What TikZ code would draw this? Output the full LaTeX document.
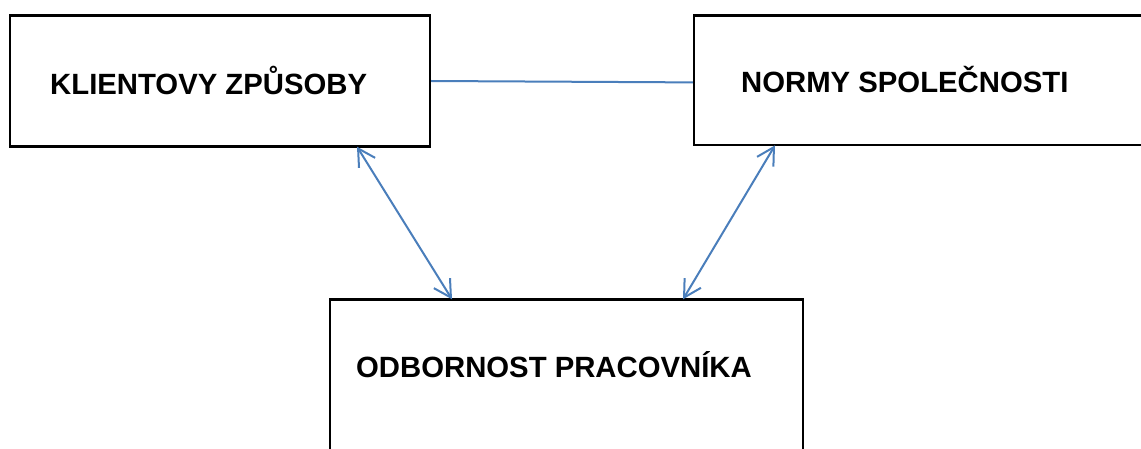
\documentclass[tikz,border=0pt]{standalone}
\usepackage{fontspec}
\setmainfont{Liberation Sans}
\usetikzlibrary{arrows.meta}
\definecolor{linkblue}{HTML}{4A7EBB}
\tikzset{
  box/.style={draw=black, line width=2.4pt, rectangle, inner sep=0pt, fill=white},
  label/.style={anchor=base west, inner sep=0pt, font=\fontsize{29.3}{34}\selectfont\bfseries},
  link/.style={draw=linkblue, line width=2pt},
  twoway/.style={link, {Straight Barb[length=17pt,width=19pt,line width=2pt]}-{Straight Barb[length=17pt,width=19pt,line width=2pt]}}
}
\begin{document}
\begin{tikzpicture}[x=1pt, y=1pt]
  \useasboundingbox (0,0) rectangle (1141,448);
  \clip (0,0) rectangle (1141,448);
  \fill[white] (0,0) rectangle (1141,448);

  % three boxes
  \node[box, minimum width=420pt, minimum height=131pt] (kl) at (220,367) {};
  \node[box, minimum width=476pt, minimum height=129.5pt] (nm) at (932,367.6) {};
  \node[box, minimum width=473pt, minimum height=200.5pt] (od) at (566.5,48.25) {};

  % box titles
  \node[label] (kltext) at (50,353) {KLIENTOVY ZPŮSOBY};
  \node[label] (nmtext) at (741,355) {NORMY SPOLEČNOSTI};
  \node[label] (odtext) at (356,71) {ODBORNOST PRACOVNÍKA};

  % connectors
  \draw[link] (kl.east) -- ([yshift=-2pt]nm.west);
  \draw[twoway] ([xshift=137pt,yshift=1pt]kl.south) -- ([xshift=-114.5pt,yshift=-1pt]od.north);
  \draw[twoway] ([xshift=-157pt,yshift=1pt]nm.south) -- ([xshift=116.5pt,yshift=-1pt]od.north);
\end{tikzpicture}
\end{document}
